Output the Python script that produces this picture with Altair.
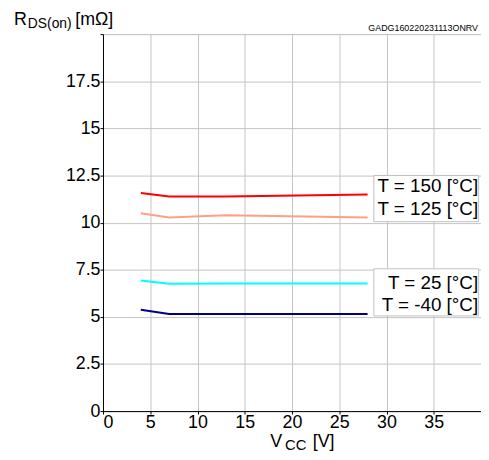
import altair as alt
import pandas as pd

vcc = [4, 7, 13, 28]
r_150 = [11.57, 11.39, 11.39, 11.49]
r_125 = [10.50, 10.27, 10.39, 10.27]
r_25 = [6.93, 6.76, 6.77, 6.77]
r_m40 = [5.38, 5.15, 5.15, 5.15]

series = ["T = 150 [°C]", "T = 125 [°C]", "T = 25 [°C]", "T = -40 [°C]"]
colors = ["#ff0000", "#ff9f85", "#00ffff", "#000080"]
values = [r_150, r_125, r_25, r_m40]

rows = []
for s, vals in zip(series, values):
    for x, y in zip(vcc, vals):
        rows.append({"vcc": x, "r": y, "series": s})
df = pd.DataFrame(rows)

label_y = [11.95, 10.7, 6.8, 5.6]
labels = pd.DataFrame({"series": series, "y": label_y, "x": [39.7] * 4})
boxes = pd.DataFrame({"x": [28.66, 28.66], "x2": [39.75, 39.75], "y": [12.5, 7.55], "y2": [10.05, 5.05]})

FONT = "Liberation Sans"
W, H = 382, 381

xs = alt.Scale(domain=[0, 40], nice=False)
ys = alt.Scale(domain=[0, 20], nice=False)

axis_common = dict(title=None, labelFontSize=18, labelFont=FONT, labelColor="black",
                   domainColor="black", tickColor="black", tickSize=3,
                   gridColor="#c4c4c4", labelPadding=0, format=".1~f")

lines = alt.Chart(df).mark_line(strokeWidth=2).encode(
    x=alt.X("vcc:Q", scale=xs,
            axis=alt.Axis(values=[0, 5, 10, 15, 20, 25, 30, 35, 40],
                          labelExpr="datum.value == 40 ? '' : datum.label", **axis_common)),
    y=alt.Y("r:Q", scale=ys,
            axis=alt.Axis(values=[0, 2.5, 5, 7.5, 10, 12.5, 15, 17.5, 20],
                          labelExpr="datum.value == 20 ? '' : datum.label", **axis_common)),
    color=alt.Color("series:N", scale=alt.Scale(domain=series, range=colors), legend=None),
    detail="series:N",
)

rects = alt.Chart(boxes).mark_rect(fill="white", stroke="#c0c0c0", strokeWidth=1).encode(
    x="x:Q", x2="x2:Q", y="y:Q", y2="y2:Q"
)

texts = alt.Chart(labels).mark_text(align="right", baseline="middle", fontSize=19, font=FONT,
                                    color="black").encode(
    x="x:Q", y="y:Q", text="series:N"
)

ann_text = ["R", "DS(on)", "[mΩ]", "GADG160220231113ONRV", "V", "CC", "[V]"]
ann_px = [-90, -76, -28, 379, 169, 184, 212]
ann_py = [-14, -10, -14, -6, 412, 415, 412]
ann_fs = [18, 14, 18, 9, 18, 15, 18]

ann_marks = []
for t, px, py, fs in zip(ann_text, ann_px, ann_py, ann_fs):
    align = "right" if t.startswith("GADG") else "left"
    ann_marks.append(
        alt.Chart(pd.DataFrame({"t": [t]})).mark_text(
            align=align, baseline="middle", fontSize=fs, font=FONT, color="black"
        ).encode(x=alt.value(px), y=alt.value(py), text="t:N")
    )

chart = alt.layer(lines, rects, texts, *ann_marks).properties(
    width=W, height=H,
    padding={"left": 96, "top": 24, "right": 0, "bottom": 44},
    autosize=alt.AutoSizeParams(type="none"),
).configure_view(stroke="black", strokeWidth=1.5).configure(background="white")

chart.save("out.html", embed_options={"renderer": "svg", "actions": False})
